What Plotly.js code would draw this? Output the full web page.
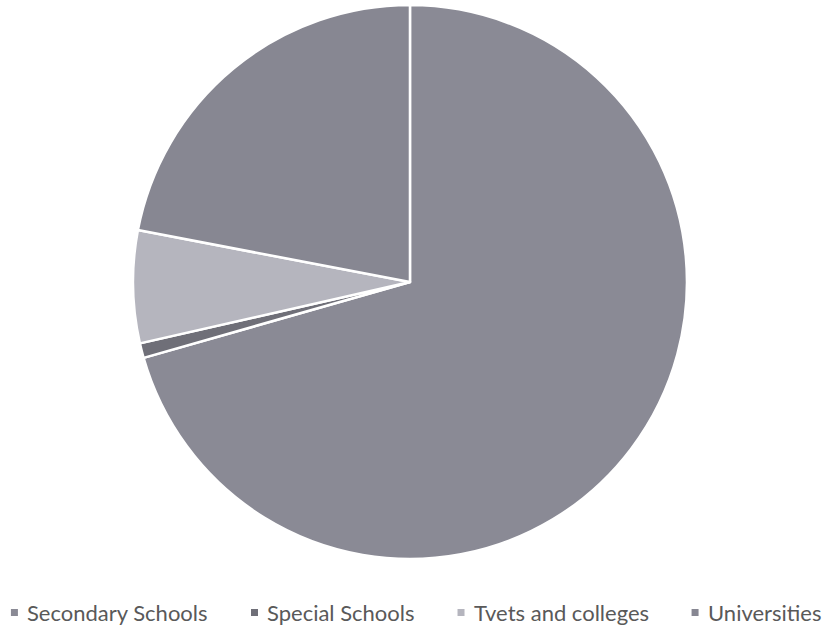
<!DOCTYPE html>
<html>
<head>
<meta charset="utf-8">
<script src="https://cdn.plot.ly/plotly-3.0.1.min.js"></script>
<style>html,body{margin:0;padding:0;background:#fff;}#chart{width:823px;height:630px;}</style>
</head>
<body>
<div id="chart"></div>
<script>
var categories = ["Secondary Schools", "Special Schools", "Tvets and colleges", "Universities"];
var values = [70.6, 0.86, 6.56, 22.0];
var colors = ["#8a8a95", "#6f6f78", "#b5b5be", "#878792"];

var W = 823, H = 630;
var legendFont = {family: "Lato, sans-serif", size: 22, color: "#595959"};

var data = [{
  type: "pie",
  labels: categories,
  values: values,
  sort: false,
  direction: "clockwise",
  rotation: 0,
  textinfo: "none",
  hoverinfo: "label+percent",
  marker: {colors: colors, line: {color: "#ffffff", width: 2.5}},
  domain: {x: [0.1616, 0.8347], y: [0.1127, 0.992]}
}];

// Excel-style centred legend built from the category and colour arrays
var ctx = document.createElement("canvas").getContext("2d");
ctx.font = legendFont.size + "px Lato";
var widths = categories.map(function (c) { return ctx.measureText(c).width; });
var sym = 7, symGap = 9, itemGap = 43;
var total = 0;
widths.forEach(function (w, i) { total += sym + symGap + w + (i < widths.length - 1 ? itemGap : 0); });
var cx = 416, cy = 612.5;
var px = cx - total / 2;
var shapes = [], annotations = [];
categories.forEach(function (c, i) {
  shapes.push({type: "rect", xref: "paper", yref: "paper",
    x0: px / W, x1: (px + sym) / W, y0: 1 - (cy + sym / 2) / H, y1: 1 - (cy - sym / 2) / H,
    fillcolor: colors[i], line: {width: 0}});
  var tx = px + sym + symGap;
  annotations.push({xref: "paper", yref: "paper", x: (tx - 2) / W, y: 1 - cy / H,
    xanchor: "left", yanchor: "middle", showarrow: false, text: c, font: legendFont});
  px = tx + widths[i] + itemGap;
});

var layout = {
  width: W, height: H,
  margin: {l: 0, r: 0, t: 0, b: 0},
  paper_bgcolor: "#ffffff",
  showlegend: false,
  shapes: shapes,
  annotations: annotations
};
Plotly.newPlot("chart", data, layout, {displayModeBar: false, staticPlot: true});
</script>
</body>
</html>
